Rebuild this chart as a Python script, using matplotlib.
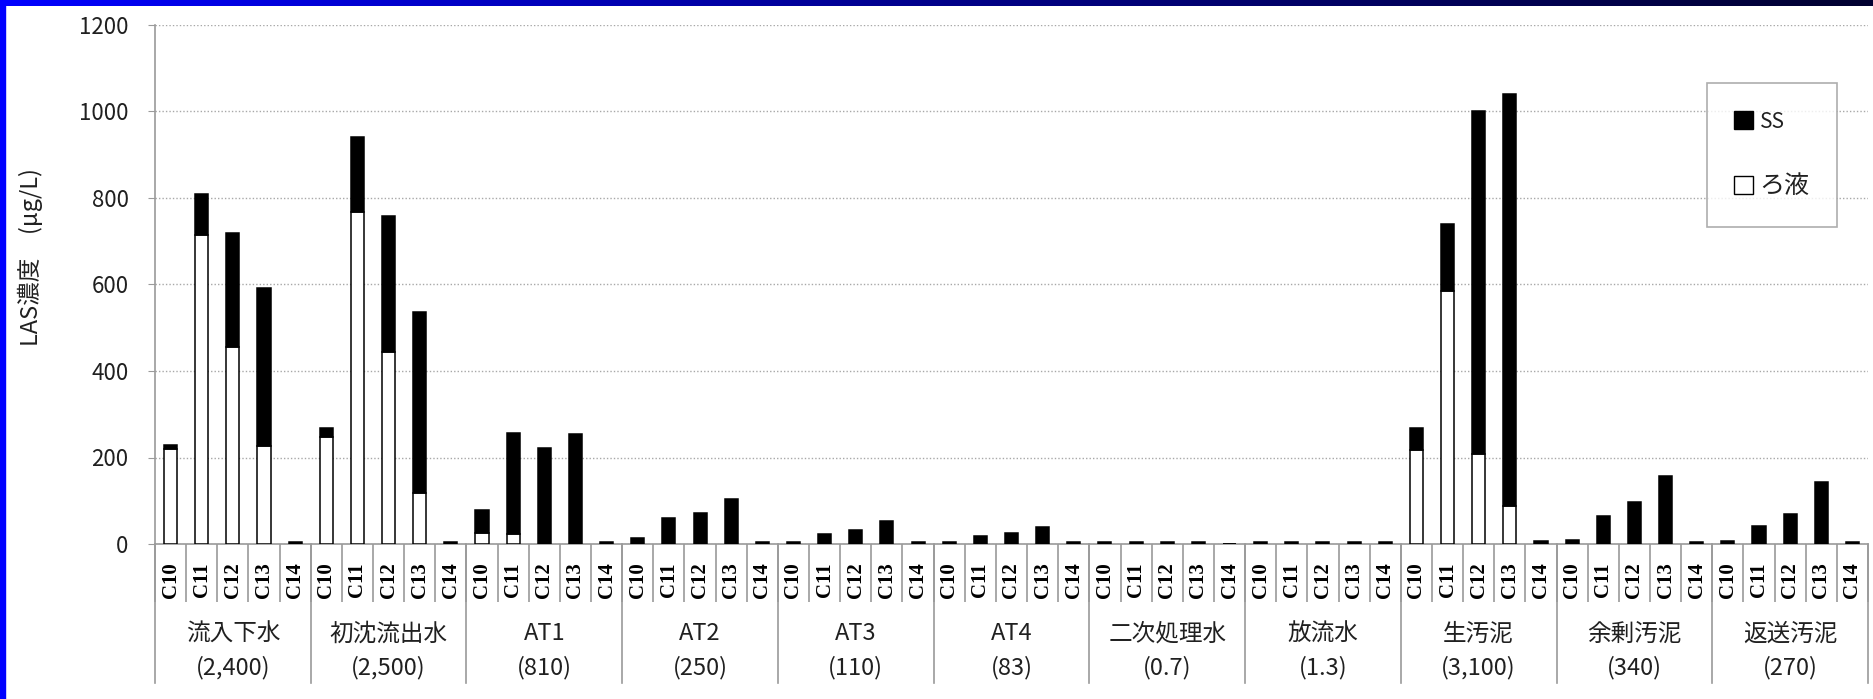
import matplotlib
matplotlib.use("Agg")
import matplotlib.pyplot as plt
import numpy as np
from matplotlib.lines import Line2D
from matplotlib.patches import Patch

plt.rcParams["font.family"] = ["Noto Sans CJK JP", "DejaVu Sans"]

# --- data (ug/L) ---
groups = ["流入下水", "初沈流出水", "AT1", "AT2", "AT3", "AT4",
          "二次処理水", "放流水", "生汚泥", "余剰汚泥", "返送汚泥"]
group_totals = ["(2,400)", "(2,500)", "(810)", "(250)", "(110)", "(83)",
                "(0.7)", "(1.3)", "(3,100)", "(340)", "(270)"]
homologs = ["C10", "C11", "C12", "C13", "C14"]

# filtrate (ろ液) part, per group C10..C14
filtrate = [
    [220, 715, 455, 227, 0],
    [247, 768, 445, 118, 0],
    [26, 23, 0, 0, 0],
    [0, 0, 0, 0, 0],
    [0, 0, 0, 0, 0],
    [0, 0, 0, 0, 0],
    [0, 0, 0, 0, 0],
    [0, 0, 0, 0, 0],
    [217, 586, 207, 88, 0],
    [0, 0, 0, 0, 0],
    [0, 0, 0, 0, 0],
]
# particulate (SS) part, stacked on top of the filtrate
ss = [
    [9, 95, 265, 364, 4],
    [21, 172, 314, 419, 4],
    [52, 234, 223, 255, 4],
    [15, 60, 71, 103, 4],
    [4, 22, 32, 53, 4],
    [4, 18, 25, 39, 4],
    [4, 4, 4, 4, 0],
    [4, 4, 4, 4, 4],
    [51, 154, 793, 952, 7],
    [10, 65, 98, 157, 4],
    [7, 42, 70, 143, 4],
]

W, H = 1874, 699
AX_L, AX_R, AX_T, AX_B = 155, 1868, 25, 544   # plot area in pixels
GRAY = "#9a9a9a"


def main():
    fig = plt.figure(figsize=(W / 100, H / 100), dpi=100)

    # slide frame: blue gradient band on top, blue strip on the left
    top = fig.add_axes([0, 1 - 6 / H, 1, 6 / H])
    grad = np.linspace(0, 1, 256)[None, :]
    cmap = matplotlib.colors.LinearSegmentedColormap.from_list(
        "band", ["#0000ff", "#00008a", "#000030"])
    top.imshow(grad, aspect="auto", cmap=cmap)
    top.axis("off")
    fig.patches.append(plt.Rectangle((0, 0), 5 / W, 1, transform=fig.transFigure,
                                     color="#0000ff", zorder=5))

    ax = fig.add_axes([AX_L / W, 1 - AX_B / H, (AX_R - AX_L) / W, (AX_B - AX_T) / H])
    filt = np.array(filtrate).ravel()
    sus = np.array(ss).ravel()
    x = np.arange(filt.size)
    ax.bar(x, filt, width=0.42, color="white", edgecolor="black", linewidth=1.1, zorder=3)
    ax.bar(x, sus, width=0.42, bottom=filt, color="black", edgecolor="black",
           linewidth=1.1, zorder=3)

    ax.set_xlim(-0.5, filt.size - 0.5)
    ax.set_ylim(0, 1200)
    ax.set_yticks(np.arange(0, 1201, 200))
    ax.yaxis.grid(True, linestyle=(0, (1, 1.5)), color="#a8a8a8", linewidth=1.0)
    ax.set_axisbelow(True)
    for s in ("top", "right"):
        ax.spines[s].set_visible(False)
    for s in ("left", "bottom"):
        ax.spines[s].set_color(GRAY)
        ax.spines[s].set_linewidth(1.2)
    ax.tick_params(axis="y", length=5, color=GRAY, pad=14, labelsize=16, labelcolor="#202020")

    ax.set_xticks(x)
    ax.set_xticklabels(homologs * len(groups), rotation=90, fontfamily="Liberation Serif",
                       fontweight="bold", fontsize=15)
    ax.tick_params(axis="x", which="major", length=0, pad=13)
    ax.set_xticks(np.arange(-0.5, filt.size, 1.0), minor=True)
    ax.tick_params(axis="x", which="minor", length=42, color=GRAY, width=1.2)

    # group separators and labels below the axis
    trans = ax.get_xaxis_transform()
    depth = (683 - AX_B) / (AX_B - AX_T)
    n = len(homologs)
    for i in range(len(groups) + 1):
        ax.add_line(Line2D([i * n - 0.5] * 2, [0, -depth], transform=trans,
                           color=GRAY, linewidth=1.2, clip_on=False))
    for i, (g, t) in enumerate(zip(groups, group_totals)):
        cx = i * n + (n - 1) / 2
        ax.text(cx, -(634 - AX_B) / (AX_B - AX_T), g, transform=trans, ha="center",
                va="center", fontsize=17, color="#202020")
        ax.text(cx, -(668 - AX_B) / (AX_B - AX_T), t, transform=trans, ha="center",
                va="center", fontsize=17, color="#202020")

    fig.text(30 / W, 1 - 257 / H, "LAS濃度　(μg/L)", rotation=90, ha="center",
             va="center", fontsize=17, color="#202020")

    handles = [Patch(facecolor="black", edgecolor="black"),
               Patch(facecolor="white", edgecolor="black")]
    leg = fig.legend(handles, ["SS", "ろ液"], loc="upper left",
                     bbox_to_anchor=(1707 / W, 1 - 83 / H), fontsize=18,
                     frameon=True, fancybox=False, borderpad=1.1, labelspacing=1.6,
                     handlelength=0.75, handleheight=0.75, handletextpad=0.25,
                     borderaxespad=0)
    leg.get_frame().set_edgecolor(GRAY)
    leg.get_frame().set_linewidth(1.2)
    leg.get_texts()[0].set_fontsize(15)
    for t in leg.get_texts():
        t.set_color("#202020")

    fig.savefig("out.png", dpi=100)


if __name__ == "__main__":
    main()
